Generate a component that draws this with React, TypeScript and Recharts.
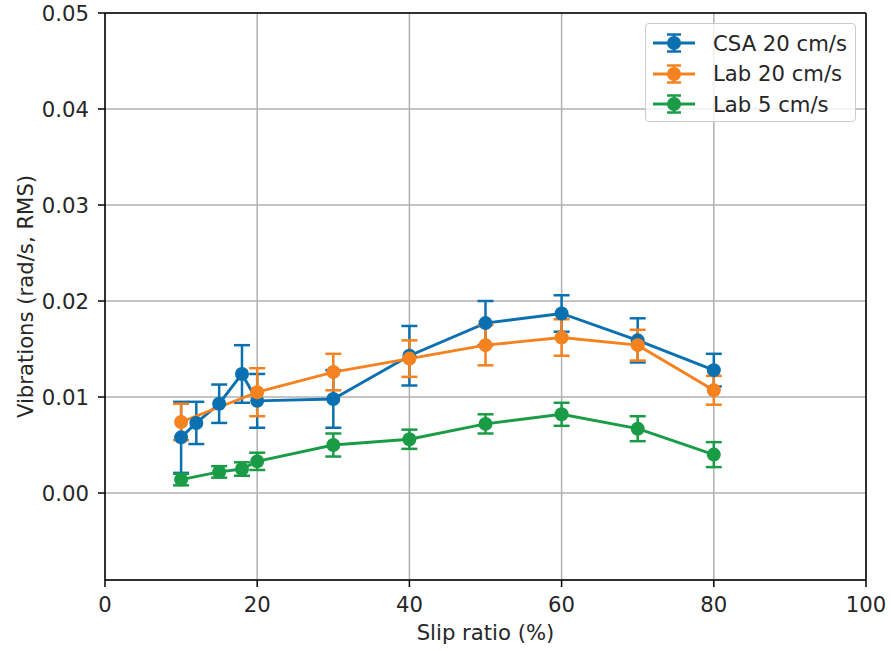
import {
  LineChart,
  Line,
  XAxis,
  YAxis,
  CartesianGrid,
  ErrorBar,
  Legend,
  ReferenceLine,
} from "recharts";

// slip ratio (%) per series
const csaSlip = [10, 12, 15, 18, 20, 30, 40, 50, 60, 70, 80];
const csaVib = [0.0058, 0.0073, 0.0093, 0.0124, 0.0096, 0.0098, 0.0143, 0.0177, 0.0187, 0.0159, 0.0128];
const csaErr = [0.0037, 0.0022, 0.002, 0.003, 0.0028, 0.003, 0.0031, 0.0023, 0.0019, 0.0023, 0.0017];

const lab20Slip = [10, 20, 30, 40, 50, 60, 70, 80];
const lab20Vib = [0.0074, 0.0105, 0.0126, 0.014, 0.0154, 0.0162, 0.0154, 0.0107];
const lab20Err = [0.0019, 0.0025, 0.0019, 0.0019, 0.0021, 0.0019, 0.0016, 0.0015];

const lab5Slip = [10, 15, 18, 20, 30, 40, 50, 60, 70, 80];
const lab5Vib = [0.0014, 0.0022, 0.0025, 0.0033, 0.005, 0.0056, 0.0072, 0.0082, 0.0067, 0.004];
const lab5Err = [0.0006, 0.0006, 0.0007, 0.0009, 0.0012, 0.001, 0.001, 0.0012, 0.0013, 0.0013];

const xTicks = [0, 20, 40, 60, 80, 100];
const yTicks = [0, 0.01, 0.02, 0.03, 0.04, 0.05];

const FONT = "'DejaVu Sans', sans-serif";
const FS = 21.2;
const TEXT = "#262626";

const SERIES = [
  { name: "CSA 20 cm/s", color: "#0a70b0", slip: csaSlip, vib: csaVib, err: csaErr },
  { name: "Lab 20 cm/s", color: "#f5821f", slip: lab20Slip, vib: lab20Vib, err: lab20Err },
  { name: "Lab 5 cm/s", color: "#1a9c47", slip: lab5Slip, vib: lab5Vib, err: lab5Err },
];

const toRows = (slip: number[], vib: number[], err: number[]) =>
  slip.map((x, i) => ({ x, y: vib[i], err: err[i] }));

function LegendBox() {
  return (
    <div
      style={{
        width: 209,
        height: 97,
        border: "1px solid #cccccc",
        borderRadius: 4,
        background: "rgba(255,255,255,0.8)",
        fontFamily: FONT,
        fontSize: FS,
        color: TEXT,
        boxSizing: "content-box",
      }}
    >
      {SERIES.map((s, i) => (
        <div
          key={s.name}
          style={{
            position: "absolute",
            left: 0,
            top: 7 + i * 30.5,
            height: 26,
            display: "flex",
            alignItems: "center",
          }}
        >
          <svg width={60} height={26} style={{ marginLeft: 8 }}>
            <line x1={0} y1={13} x2={42} y2={13} stroke={s.color} strokeWidth={2.9} />
            <line x1={21} y1={4.5} x2={21} y2={21.5} stroke={s.color} strokeWidth={2.5} />
            <line x1={14} y1={4.5} x2={28} y2={4.5} stroke={s.color} strokeWidth={2.5} />
            <line x1={14} y1={21.5} x2={28} y2={21.5} stroke={s.color} strokeWidth={2.5} />
            <circle cx={21} cy={13} r={7} fill={s.color} />
          </svg>
          <span style={{ marginLeft: 0, whiteSpace: "nowrap" }}>{s.name}</span>
        </div>
      ))}
    </div>
  );
}

export default function App() {
  return (
    <div style={{ position: "absolute", left: 0, top: 0, width: 891, height: 651, background: "#fff" }}>
      <LineChart width={891} height={651} margin={{ top: 13, right: 25, bottom: 0, left: 15 }}>
        <CartesianGrid stroke="#b0b0b0" strokeWidth={1.5} />
        <XAxis
          dataKey="x"
          type="number"
          domain={[0, 100]}
          ticks={xTicks}
          allowDataOverflow
          height={71}
          tickSize={7}
          tickMargin={10}
          tick={{ fontFamily: FONT, fontSize: FS, fill: TEXT }}
          axisLine={{ stroke: "#000", strokeWidth: 1.5 }}
          tickLine={{ stroke: "#000", strokeWidth: 1.5 }}
          label={{
            value: "Slip ratio (%)",
            position: "insideBottom",
            offset: 11,
            style: { fontFamily: FONT, fontSize: FS, fill: TEXT },
          }}
        />
        <YAxis
          type="number"
          domain={[-0.00906, 0.05]}
          ticks={yTicks}
          allowDataOverflow
          width={90}
          tickSize={7}
          tickMargin={9}
          tickFormatter={(v: number) => v.toFixed(2)}
          tick={{ fontFamily: FONT, fontSize: FS, fill: TEXT }}
          axisLine={{ stroke: "#000", strokeWidth: 1.5 }}
          tickLine={{ stroke: "#000", strokeWidth: 1.5 }}
          label={{
            value: "Vibrations (rad/s, RMS)",
            angle: -90,
            position: "insideLeft",
            offset: 10.5,
            style: { fontFamily: FONT, fontSize: FS, fill: TEXT, textAnchor: "middle" },
          }}
        />
        <ReferenceLine x={100} stroke="#000" strokeWidth={1.5} ifOverflow="visible" />
        <ReferenceLine y={0.05} stroke="#000" strokeWidth={1.5} ifOverflow="visible" />
        {SERIES.map((s) => (
          <Line
            key={s.name}
            name={s.name}
            data={toRows(s.slip, s.vib, s.err)}
            dataKey="y"
            stroke={s.color}
            strokeWidth={2.9}
            dot={{ r: 7, fill: s.color, stroke: s.color, strokeWidth: 0 }}
            activeDot={false}
            isAnimationActive={false}
          >
            <ErrorBar dataKey="err" direction="y" width={8} stroke={s.color} strokeWidth={2.5} />
          </Line>
        ))}
        <Legend
          layout="vertical"
          align="center"
          verticalAlign="middle"
          content={() => <LegendBox />}
          wrapperStyle={{ top: 23, left: 645, width: 211, height: 99, right: "auto", bottom: "auto" }}
        />
      </LineChart>
    </div>
  );
}
